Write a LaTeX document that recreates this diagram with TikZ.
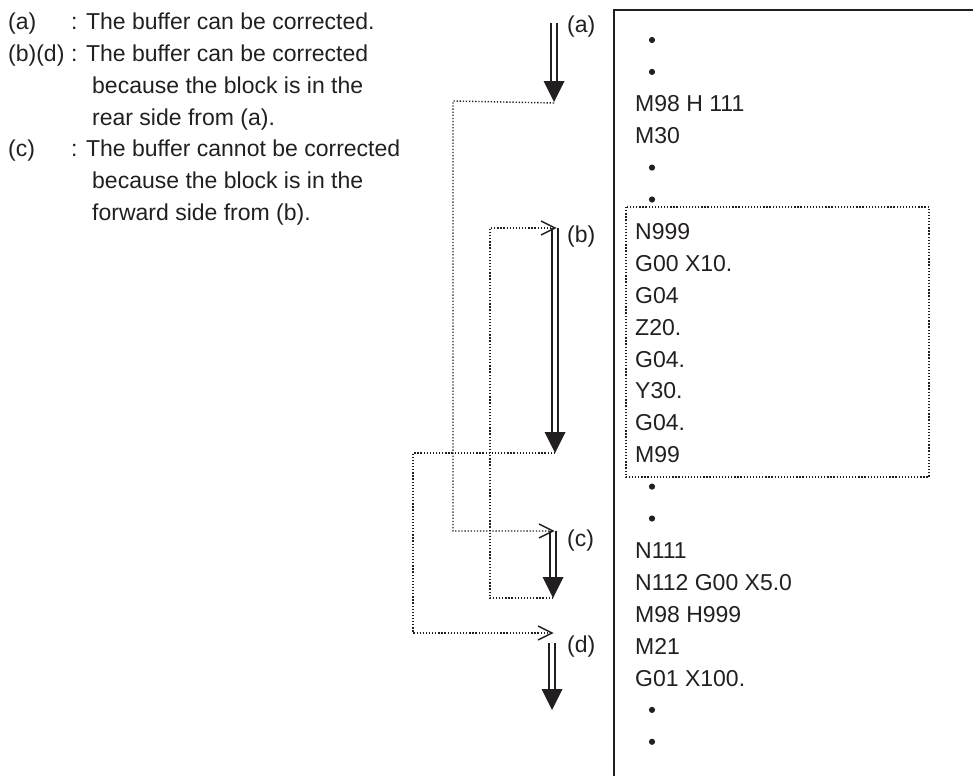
\documentclass[tikz,border=0pt]{standalone}
\usepackage{fontspec}
\setmainfont{Liberation Sans}
\definecolor{ink}{HTML}{231F20}
\begin{document}
\begin{tikzpicture}[x=1pt,y=-1pt,
  font=\fontsize{23}{27}\selectfont,
  txt/.style={anchor=base west, inner sep=0pt, text=ink},
  dblline/.style={draw=ink, line width=2pt},
  headfill/.style={fill=ink},
  dotline/.style={draw=ink, line width=1.4pt, dash pattern=on 1.3pt off 1.8pt},
  openhead/.style={draw=ink, line width=1.4pt},
  frame/.style={draw=ink, line width=2pt},
  bullet/.style={circle, fill=ink, inner sep=0pt, minimum size=6.2pt}]
\useasboundingbox (0,0) rectangle (973,776);

% ---------- legend text ----------
\node[txt] (la1) at (8,30) {(a)};
\node[txt] (la2) at (71,30) {: The buffer can be corrected.};
\node[txt] (lb1) at (8,61) {(b)(d)};
\node[txt] (lb2) at (71,61) {: The buffer can be corrected};
\node[txt] (lb3) at (92,93) {because the block is in the};
\node[txt] (lb4) at (92,125) {rear side from (a).};
\node[txt] (lc1) at (8,156) {(c)};
\node[txt] (lc2) at (71,156) {: The buffer cannot be corrected};
\node[txt] (lc3) at (92,188) {because the block is in the};
\node[txt] (lc4) at (92,220) {forward side from (b).};

% ---------- program frame ----------
\coordinate (fbl) at (614,776);
\coordinate (ftl) at (614,10);
\coordinate (ftr) at (973,10);
\draw[frame] (fbl) -- (ftl) -- (ftr);
\draw[dotline] (626,207) rectangle (929,477);

% bullets
\foreach \i/\n in {0/d1,1/d2,4/d3,5/d4,14/d5,15/d6,21/d7,22/d8}
  \node[bullet] (\n) at (652,{40+31.9*\i}) {};

% code lines
\foreach \i/\t/\n in {2/M98 H 111/p2,3/M30/p3,6/N999/p6,7/G00 X10./p7,8/G04/p8,
  9/Z20./p9,10/G04./p10,11/Y30./p11,12/G04./p12,13/M99/p13,
  16/N111/p16,17/N112 G00 X5.0/p17,18/M98 H999/p18,19/M21/p19,20/G01 X100./p20}
  \node[txt] (\n) at (635,{40+31.9*\i+8}) {\t};

% ---------- arrows ----------
\coordinate (atop) at (554,23);
\coordinate (atip) at (554,102);
\coordinate (btop) at (555,228);
\coordinate (btip) at (555,453);
\coordinate (ctop) at (553,531);
\coordinate (ctip) at (553,598);
\coordinate (dtop) at (552,633);
\coordinate (dtip) at (552,710);

\foreach \t/\p/\s in {atop/atip/0,btop/btip/0,ctop/ctip/0,dtop/dtip/10} {
  \draw[dblline] ([xshift=-2.7pt,yshift=-\s pt]\t) -- ([xshift=-2.7pt,yshift=19pt]\p);
  \draw[dblline] ([xshift=2.7pt,yshift=-\s pt]\t) -- ([xshift=2.7pt,yshift=19pt]\p);
  \fill[headfill] (\p) -- ++(-10.5,-21) -- ++(21,0) -- cycle;
}

% labels
\node[txt] (lab a) at (567,33) {(a)};
\node[txt] (lab b) at (567,242) {(b)};
\node[txt] (lab c) at (567,546) {(c)};
\node[txt] (lab d) at (567,652) {(d)};

% ---------- dotted jumps ----------
\coordinate (j1) at (453,101);
\coordinate (j2) at (453,531);
\draw[dotline] ([yshift=-1pt]atip) -- (j1) -- (j2) -- (ctop);

\coordinate (k1) at (490,598);
\coordinate (k2) at (490,228);
\draw[dotline] (ctip) -- (k1) -- (k2) -- (btop);

\coordinate (m1) at (413,453);
\coordinate (m2) at (413,633);
\draw[dotline] (btip) -- (m1) -- (m2) -- (dtop);

% open heads
\foreach \h in {btop,ctop,dtop}
  \draw[openhead] ([shift={(-14,-7)}]\h) -- (\h) -- ([shift={(-14,7)}]\h);

\end{tikzpicture}
\end{document}
